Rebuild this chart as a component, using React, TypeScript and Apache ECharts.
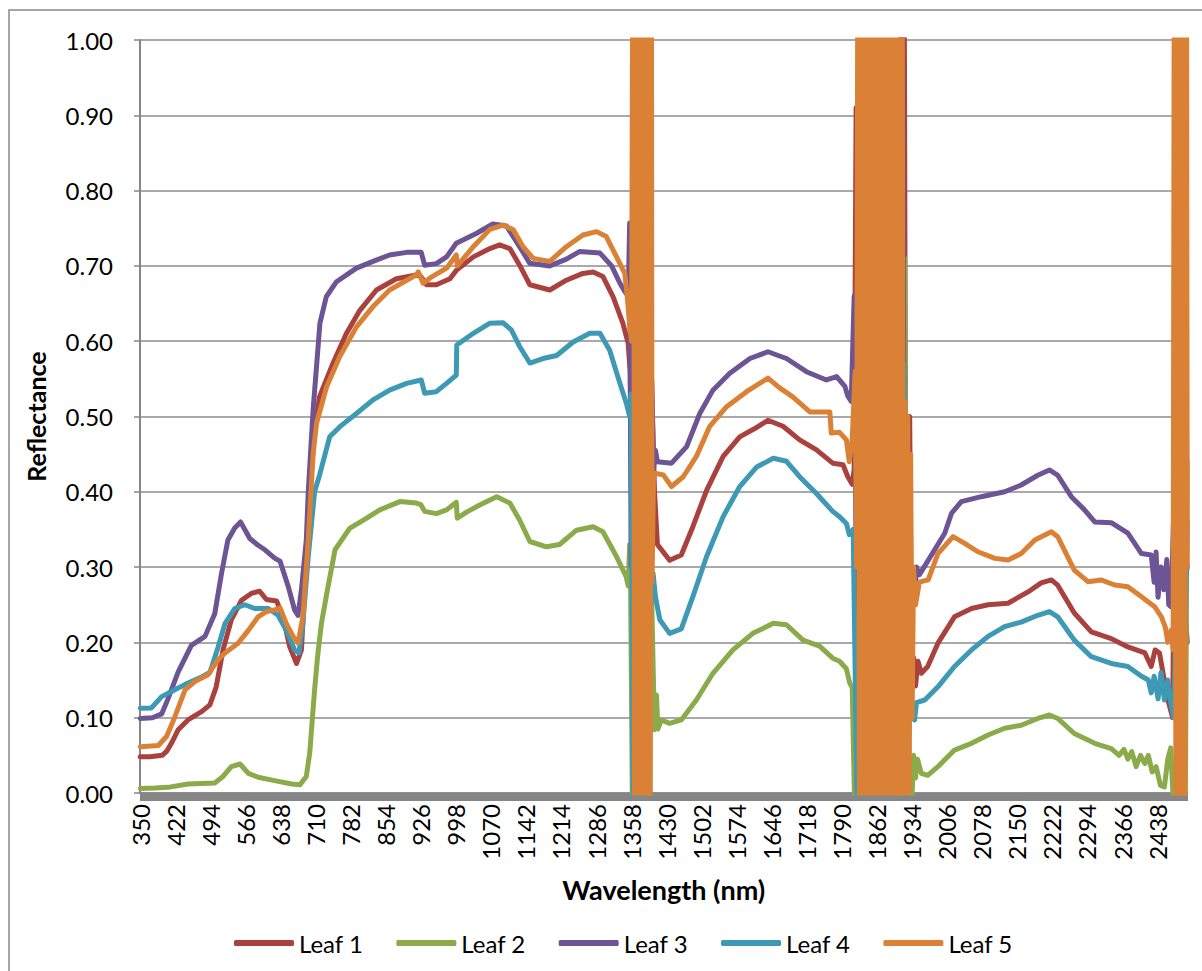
import React, { useEffect, useRef } from 'react';
import * as echarts from 'echarts';

// Category axis: every wavelength from 350 to 2500 nm
const wavelengths: string[] = [];
for (let w = 350; w <= 2500; w++) wavelengths.push(String(w));

const seriesNames = ['Leaf 1', 'Leaf 2', 'Leaf 3', 'Leaf 4', 'Leaf 5'];
const seriesColors = ['#A9423E', '#8BAB4B', '#6D5494', '#3E99B4', '#DB8136'];

// [wavelength nm, reflectance]
const leaf1: [number, number][] = [
  [350,0.048],[370,0.048],[395,0.05],[405,0.056],[414,0.066],[428,0.084],[448,0.097],[476,0.108],[493,0.117],[506,0.141],[520,0.19],[537,0.23],[558,0.256],[578,0.265],[595,0.268],[609,0.257],[630,0.255],[643,0.234],[657,0.194],[671,0.172],[681,0.19],[691,0.314],[698,0.4],[708,0.48],[718,0.526],[746,0.571],[773,0.61],[801,0.641],[835,0.668],[876,0.683],[917,0.688],[926,0.686],[938,0.675],[958,0.675],[986,0.683],[999,0.694],[1034,0.712],[1068,0.723],[1088,0.728],[1109,0.723],[1129,0.701],[1150,0.675],[1191,0.668],[1225,0.681],[1259,0.69],[1280,0.692],[1300,0.686],[1321,0.659],[1341,0.624],[1352,0.597],[1356,0.56],[1362,0.2],[1370,0.9],[1380,0.5],[1392,0.6],[1400,0.55],[1406,0.4],[1412,0.33],[1437,0.309],[1461,0.316],[1485,0.354],[1513,0.402],[1547,0.447],[1581,0.473],[1612,0.484],[1639,0.495],[1670,0.487],[1704,0.469],[1738,0.456],[1772,0.438],[1793,0.436],[1803,0.42],[1812,0.41],[1816,0.43],[1820,0.91],[1824,0.2],[1850,0.6],[1880,0.4],[1905,0.7],[1918,1.3],[1922,0.3],[1930,0.5],[1934,0.15],[1938,0.18],[1942,0.142],[1947,0.175],[1954,0.159],[1967,0.168],[1988,0.199],[2022,0.234],[2057,0.245],[2091,0.25],[2132,0.252],[2173,0.267],[2200,0.279],[2221,0.283],[2234,0.276],[2268,0.239],[2303,0.214],[2344,0.205],[2378,0.194],[2413,0.186],[2426,0.168],[2434,0.19],[2443,0.186],[2450,0.16],[2460,0.124],[2470,0.1],[2474,0.4],[2478,0.1],[2490,0.3],[2500,0.2]
];

const leaf2: [number, number][] = [
  [350,0.006],[380,0.0065],[407,0.0075],[448,0.012],[503,0.0133],[520,0.022],[537,0.035],[555,0.0385],[572,0.026],[592,0.021],[626,0.0164],[661,0.012],[678,0.011],[691,0.022],[698,0.053],[708,0.137],[714,0.18],[722,0.225],[733,0.265],[750,0.323],[780,0.3515],[815,0.365],[842,0.376],[883,0.387],[917,0.385],[926,0.383],[934,0.374],[958,0.371],[979,0.376],[999,0.386],[1001,0.365],[1020,0.373],[1047,0.3825],[1082,0.3935],[1109,0.385],[1129,0.3625],[1150,0.334],[1184,0.327],[1211,0.33],[1246,0.349],[1280,0.3536],[1300,0.347],[1328,0.314],[1348,0.287],[1352,0.275],[1355,0.33],[1357,0.27],[1361,-0.05],[1380,0.1],[1395,-0.05],[1400,0.265],[1406,0.084],[1410,0.13],[1413,0.085],[1420,0.097],[1437,0.0925],[1461,0.097],[1492,0.1235],[1526,0.159],[1567,0.19],[1608,0.212],[1650,0.2253],[1677,0.2235],[1711,0.203],[1745,0.195],[1772,0.179],[1786,0.175],[1800,0.165],[1807,0.146],[1812,0.14],[1818,-0.05],[1870,0.3],[1916,-0.05],[1920,0.71],[1924,-0.05],[1930,0.04],[1934,-0.02],[1938,0.05],[1942,0.02],[1946,0.045],[1954,0.026],[1967,0.0235],[1988,0.035],[2022,0.057],[2057,0.066],[2091,0.077],[2125,0.086],[2159,0.09],[2193,0.099],[2217,0.1036],[2234,0.099],[2268,0.079],[2310,0.066],[2344,0.059],[2360,0.05],[2370,0.058],[2378,0.045],[2386,0.055],[2395,0.035],[2404,0.05],[2413,0.039],[2420,0.05],[2428,0.028],[2436,0.035],[2445,0.01],[2453,0.008],[2460,0.045],[2466,0.06],[2472,-0.02],[2490,0.1],[2496,-0.02],[2500,0.44]
];

const leaf3: [number, number][] = [
  [350,0.099],[375,0.1],[394,0.105],[407,0.125],[428,0.161],[455,0.196],[483,0.208],[503,0.238],[517,0.292],[530,0.336],[544,0.352],[556,0.36],[575,0.338],[592,0.329],[606,0.323],[626,0.312],[637,0.308],[654,0.274],[667,0.243],[674,0.236],[681,0.27],[691,0.336],[695,0.4],[705,0.509],[719,0.624],[732,0.659],[753,0.679],[794,0.697],[828,0.706],[862,0.7145],[897,0.718],[927,0.718],[934,0.701],[958,0.703],[979,0.712],[999,0.73],[1040,0.743],[1074,0.7556],[1102,0.753],[1129,0.7255],[1150,0.7034],[1191,0.7],[1225,0.709],[1252,0.719],[1294,0.717],[1318,0.7],[1335,0.677],[1345,0.666],[1352,0.66],[1355,0.757],[1358,0.3],[1380,0.6],[1400,0.55],[1404,0.43],[1408,0.455],[1412,0.44],[1441,0.438],[1472,0.46],[1499,0.504],[1526,0.535],[1560,0.557],[1602,0.577],[1639,0.586],[1677,0.577],[1718,0.5595],[1759,0.5485],[1780,0.553],[1797,0.54],[1803,0.527],[1810,0.52],[1816,0.66],[1820,0.3],[1870,0.6],[1912,0.4],[1914,1.2],[1920,0.2],[1928,0.35],[1932,0.25],[1936,0.3],[1940,0.25],[1944,0.3],[1950,0.29],[1968,0.309],[2002,0.345],[2016,0.3715],[2036,0.387],[2077,0.3935],[2125,0.4],[2159,0.409],[2193,0.422],[2217,0.429],[2234,0.422],[2262,0.3935],[2289,0.376],[2310,0.36],[2344,0.359],[2378,0.345],[2406,0.318],[2426,0.316],[2432,0.28],[2436,0.32],[2440,0.26],[2446,0.3],[2452,0.27],[2458,0.31],[2462,0.25],[2467,0.247],[2472,0.37],[2480,0.25],[2500,0.3]
];

const leaf4: [number, number][] = [
  [350,0.1125],[373,0.113],[394,0.128],[421,0.137],[448,0.146],[476,0.154],[493,0.16],[510,0.194],[524,0.225],[544,0.245],[565,0.25],[585,0.245],[613,0.245],[633,0.236],[650,0.216],[667,0.19],[676,0.186],[684,0.226],[695,0.314],[708,0.4],[719,0.424],[739,0.473],[760,0.4865],[794,0.504],[828,0.522],[862,0.535],[897,0.544],[927,0.5485],[934,0.531],[958,0.533],[979,0.544],[999,0.555],[1000,0.595],[1034,0.6105],[1068,0.624],[1095,0.6245],[1112,0.615],[1129,0.593],[1150,0.571],[1177,0.577],[1205,0.581],[1239,0.599],[1273,0.6105],[1294,0.6105],[1314,0.588],[1335,0.544],[1348,0.518],[1355,0.5],[1358,0.53],[1362,-0.02],[1370,0.2],[1376,-0.05],[1380,0.735],[1384,-0.05],[1392,0.3],[1398,0.25],[1403,0.292],[1408,0.26],[1417,0.23],[1437,0.212],[1461,0.218],[1485,0.261],[1513,0.314],[1547,0.367],[1581,0.407],[1616,0.433],[1650,0.4445],[1677,0.4405],[1704,0.42],[1738,0.398],[1772,0.374],[1786,0.367],[1800,0.358],[1806,0.343],[1814,0.35],[1822,-0.02],[1870,0.3],[1914,0.2],[1918,0.57],[1922,-0.02],[1930,0.15],[1936,0.1],[1940,0.097],[1944,0.12],[1961,0.1235],[1988,0.141],[2022,0.168],[2057,0.19],[2091,0.208],[2125,0.221],[2159,0.227],[2193,0.236],[2217,0.241],[2234,0.234],[2268,0.203],[2303,0.181],[2344,0.172],[2378,0.168],[2406,0.155],[2420,0.15],[2426,0.133],[2432,0.155],[2440,0.125],[2446,0.16],[2453,0.1235],[2460,0.15],[2466,0.12],[2472,0.1],[2480,0.3],[2490,0.05],[2500,0.36]
];

const leaf5: [number, number][] = [
  [350,0.0615],[387,0.063],[404,0.075],[421,0.101],[442,0.137],[462,0.148],[489,0.157],[510,0.177],[524,0.186],[551,0.199],[572,0.216],[592,0.234],[609,0.241],[626,0.243],[637,0.246],[650,0.225],[664,0.208],[674,0.199],[684,0.234],[695,0.336],[705,0.45],[712,0.491],[733,0.54],[760,0.58],[794,0.619],[828,0.646],[862,0.668],[917,0.688],[921,0.692],[931,0.677],[945,0.684],[979,0.697],[999,0.7145],[1001,0.7],[1034,0.7255],[1068,0.7485],[1095,0.7543],[1116,0.748],[1136,0.7255],[1157,0.71],[1191,0.706],[1225,0.7255],[1259,0.741],[1287,0.7455],[1307,0.739],[1328,0.712],[1345,0.69],[1350,0.66],[1355,0.62],[1359,0.6],
  [1363,1.5],[1365,-0.2],[1367,1.4],[1369,-0.3],[1371,1.6],[1373,-0.2],[1375,1.3],[1377,-0.1],[1379,1.5],[1381,-0.3],[1383,1.4],[1385,-0.2],[1387,1.5],[1389,-0.1],[1391,1.6],[1393,-0.2],[1395,1.4],[1397,-0.3],[1399,1.5],[1401,0.28],[1404,0.425],
  [1424,0.4225],[1441,0.407],[1465,0.42],[1492,0.447],[1519,0.4865],[1554,0.513],[1595,0.533],[1639,0.551],[1663,0.538],[1690,0.526],[1725,0.506],[1766,0.506],[1769,0.478],[1786,0.479],[1800,0.469],[1806,0.44],[1812,0.47],[1818,0.56],[1821,0.3],
  [1824,1.3],[1827,-0.2],[1830,1.5],[1833,-0.1],[1836,1.4],[1839,-0.3],[1842,1.6],[1845,-0.2],[1848,1.3],[1851,-0.1],[1854,1.5],[1857,-0.2],[1860,1.4],[1863,-0.3],[1866,1.6],[1869,-0.2],[1872,1.3],[1875,-0.1],[1878,1.5],[1881,-0.2],[1884,1.4],[1887,-0.3],[1890,1.6],[1893,-0.2],[1896,1.3],[1899,-0.1],[1902,1.5],[1905,-0.2],[1908,1.4],[1911,-0.3],[1914,1.5],
  [1917,-0.1],[1920,0.52],[1923,-0.1],[1926,0.5],[1929,0.0],[1932,0.45],[1935,0.1],[1938,0.3],[1942,0.25],[1950,0.28],[1968,0.283],[1988,0.318],[2019,0.3404],[2043,0.3315],[2070,0.3204],[2105,0.3116],[2132,0.3094],[2159,0.318],[2187,0.336],[2221,0.347],[2234,0.3404],[2268,0.296],[2296,0.2806],[2323,0.283],[2351,0.2762],[2378,0.274],[2406,0.2607],[2433,0.2474],[2447,0.234],[2455,0.22],[2460,0.2],[2467,0.2165],[2471,0.19],
  [2474,1.4],[2477,-0.2],[2480,1.5],[2483,-0.1],[2486,1.3],[2489,-0.2],[2492,1.5],[2495,-0.1],[2498,1.4],[2500,0.3]
];

const allLeaves = [leaf1, leaf2, leaf3, leaf4, leaf5];
const yTicksFormat = (v: number) => v.toFixed(2);

const FONT = 'Lato';

export default function App() {
  const ref = useRef<HTMLDivElement>(null);
  useEffect(() => {
    if (!ref.current) return;
    const chart = echarts.init(ref.current, undefined, { renderer: 'svg' });
    const series = allLeaves.map((pts, i) => ({
      name: seriesNames[i],
      type: 'line',
      data: pts.map(([w, v]) => [String(w), v]),
      symbol: 'none',
      showSymbol: false,
      clip: true,
      lineStyle: { width: 5, color: seriesColors[i], cap: 'round', join: 'round' },
      itemStyle: { color: seriesColors[i] },
      emphasis: { disabled: true },
    }));
    chart.setOption({
      animation: false,
      textStyle: { fontFamily: FONT },
      grid: { left: 140, right: 14.5, top: 40, bottom: 178, containLabel: false },
      graphic: [
        {
          type: 'rect',
          shape: { x: 9, y: 10, width: 1200, height: 980 },
          style: { fill: 'none', stroke: '#898989', lineWidth: 1.5 },
          silent: true,
        },
      ],
      legend: {
        data: seriesNames,
        top: 926,
        left: 229,
        icon: 'roundRect',
        itemWidth: 60,
        itemHeight: 6,
        itemGap: 33,
        textStyle: { fontFamily: FONT, fontSize: 24, color: '#000' },
      },
      xAxis: {
        type: 'category',
        data: wavelengths,
        boundaryGap: true,
        axisLine: { show: true, lineStyle: { color: '#868686', width: 1.5 } },
        axisTick: { show: true, interval: 0, length: 8, lineStyle: { color: '#868686', width: 1 } },
        axisLabel: { interval: 71, rotate: 90, margin: 11, fontFamily: FONT, fontSize: 24, color: '#000' },
        splitLine: { show: false },
        name: 'Wavelength (nm)',
        nameLocation: 'middle',
        nameGap: 83,
        nameTextStyle: { fontFamily: FONT, fontWeight: 'bold', fontSize: 27, color: '#000' },
      },
      yAxis: {
        type: 'value',
        min: 0,
        max: 1,
        interval: 0.1,
        axisLine: { show: true, lineStyle: { color: '#868686', width: 2 } },
        axisTick: { show: true, length: 6, lineStyle: { color: '#868686', width: 1.5 } },
        axisLabel: { formatter: yTicksFormat, margin: 27, fontFamily: FONT, fontSize: 24, color: '#000' },
        splitLine: { show: true, lineStyle: { color: '#8c8c8c', width: 1.5 } },
        name: 'Reflectance',
        nameLocation: 'middle',
        nameGap: 92,
        nameRotate: 90,
        nameTextStyle: { fontFamily: FONT, fontWeight: 'bold', fontSize: 25, color: '#000' },
      },
      series,
    });
    return () => chart.dispose();
  }, []);
  return (
    <div
      ref={ref}
      style={{ position: 'absolute', left: 0, top: 0, width: 1202, height: 971, background: '#fff' }}
    />
  );
}
